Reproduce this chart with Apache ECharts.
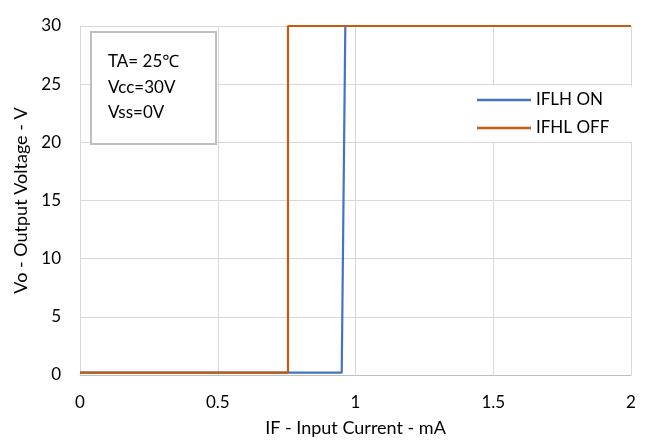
<!DOCTYPE html>
<html>
<head>
<meta charset="utf-8">
<script src="https://cdn.jsdelivr.net/npm/echarts@6/dist/echarts.min.js"></script>
<style>html,body{margin:0;padding:0;background:#fff;}#c{width:646px;height:442px;}</style>
</head>
<body>
<div id="c"></div>
<script>
// Data
var onX = [0, 0.95, 0.963, 2];
var onY = [0.2, 0.2, 30, 30];
var offX = [0, 0.755, 0.755, 2];
var offY = [0.2, 0.2, 30, 30];
var seriesNames = ['IFLH ON', 'IFHL OFF'];
var xTicks = [0, 0.5, 1, 1.5, 2];
var yTicks = [0, 5, 10, 15, 20, 25, 30];
var noteLines = ['TA= 25\u2103', 'Vcc=30V', 'Vss=0V'];

function pairs(xs, ys) { return xs.map(function (x, i) { return [x, ys[i]]; }); }

var FONT = 'Lato, "Noto Sans", sans-serif';
var chart = echarts.init(document.getElementById('c'), null, { renderer: 'canvas' });
chart.setOption({
  animation: false,
  backgroundColor: '#fff',
  textStyle: { fontFamily: FONT },
  grid: { left: 80, right: 15, top: 26, bottom: 59, containLabel: false },
  xAxis: {
    type: 'value', min: xTicks[0], max: xTicks[xTicks.length - 1], interval: 0.5,
    name: 'IF - Input Current - mA', nameLocation: 'middle', nameGap: 44,
    nameTextStyle: { fontSize: 18, color: '#000', fontFamily: FONT },
    axisLine: { show: true, lineStyle: { color: '#bfbfbf', width: 1 } },
    axisTick: { show: false },
    axisLabel: { fontSize: 17, color: '#000', margin: 19, fontFamily: FONT },
    splitLine: { show: true, lineStyle: { color: '#d9d9d9', width: 1 } }
  },
  yAxis: {
    type: 'value', min: yTicks[0], max: yTicks[yTicks.length - 1], interval: 5,
    name: 'Vo - Output Voltage - V', nameLocation: 'middle', nameGap: 32,
    nameTextStyle: { fontSize: 18, color: '#000', fontFamily: FONT },
    axisLine: { show: false },
    axisTick: { show: false },
    axisLabel: { fontSize: 17, color: '#000', margin: 19, fontFamily: FONT },
    splitLine: { show: true, lineStyle: { color: '#d9d9d9', width: 1 } }
  },
  legend: {
    orient: 'vertical', left: 471, top: 86,
    itemWidth: 54, itemHeight: 2.5, itemGap: 8,
    icon: 'rect',
    backgroundColor: '#fff',
    padding: [4, 28, 4, 6],
    textStyle: { fontSize: 17, lineHeight: 20, color: '#000', fontFamily: FONT },
    data: seriesNames
  },
  series: [
    {
      name: seriesNames[0], type: 'line', data: pairs(onX, onY),
      symbol: 'none', lineStyle: { color: '#4472C4', width: 2.2 }, itemStyle: { color: '#4472C4' }, z: 3
    },
    {
      name: seriesNames[1], type: 'line', data: pairs(offX, offY),
      symbol: 'none', lineStyle: { color: '#C55A11', width: 2.2 }, itemStyle: { color: '#C55A11' }, z: 4
    }
  ],
  graphic: [
    {
      type: 'rect', left: 90, top: 31, z: 10,
      shape: { width: 125, height: 112 },
      style: { fill: '#fff', stroke: '#bfbfbf', lineWidth: 2 }
    },
    { type: 'text', left: 108, top: 53, z: 11, style: { text: noteLines[0], fontSize: 17, fill: '#000', fontFamily: FONT } },
    { type: 'text', left: 108, top: 79, z: 11, style: { text: noteLines[1], fontSize: 17, fill: '#000', fontFamily: FONT } },
    { type: 'text', left: 108, top: 104, z: 11, style: { text: noteLines[2], fontSize: 17, fill: '#000', fontFamily: FONT } }
  ]
});
</script>
</body>
</html>
